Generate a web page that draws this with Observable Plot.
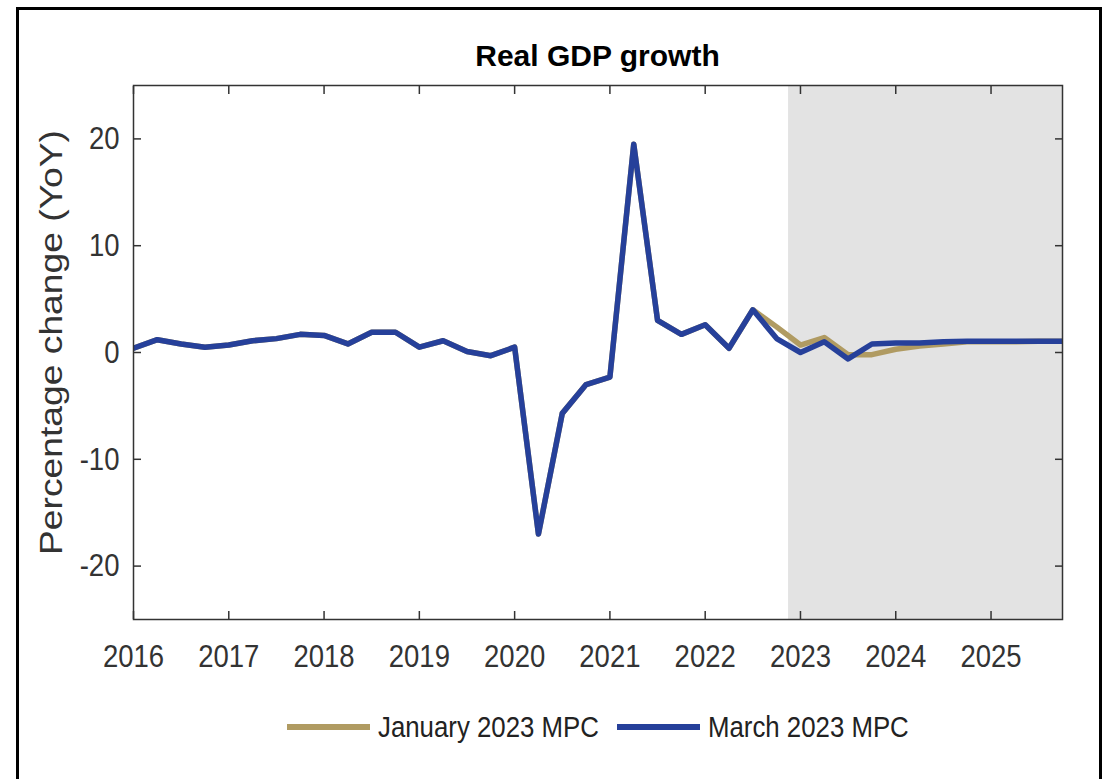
<!DOCTYPE html>
<html>
<head>
<meta charset="utf-8">
<script src="https://cdn.jsdelivr.net/npm/d3@7"></script>
<script src="https://cdn.jsdelivr.net/npm/@observablehq/plot@0.6"></script>
<style>
  html, body { margin: 0; padding: 0; background: #fff; }
  #wrap { position: relative; width: 1117px; height: 779px; overflow: hidden; background: #fff; }
  #border { position: absolute; left: 16px; top: 7px; width: 1086px; height: 800px; border: 3px solid #000; box-sizing: border-box; }
  #title { position: absolute; left: 133px; width: 929px; top: 39px; text-align: center;
    font-family: "Liberation Sans", Arial, sans-serif; font-weight: bold; font-size: 30px; color: #000; }
  #chart { position: absolute; left: 0; top: 0; }
  #legend { position: absolute; left: 0; top: 707px; width: 1117px; height: 40px; }
  .lg { position: absolute; top: 0; height: 40px; display: flex; align-items: center;
    font-family: "Liberation Sans", Arial, sans-serif; font-size: 30px; color: #222; white-space: nowrap; }
  .lg .tx { display: inline-block; transform: scaleX(0.86); transform-origin: 0 50%; }
  .sw { display: inline-block; width: 83px; height: 6px; margin-right: 8px; }
</style>
</head>
<body>
<div id="wrap">
  <div id="border"></div>
  <div id="chart"></div>
  <div id="title"></div>
  <div id="legend"></div>
</div>
<script>
const titleText = "Real GDP growth";
const yLabel = "Percentage change (YoY)";
const seriesNames = ["January 2023 MPC", "March 2023 MPC"];
const seriesColors = ["#b09b62", "#26409a"];

const quarters = [
  2016.00, 2016.25, 2016.50, 2016.75,
  2017.00, 2017.25, 2017.50, 2017.75,
  2018.00, 2018.25, 2018.50, 2018.75,
  2019.00, 2019.25, 2019.50, 2019.75,
  2020.00, 2020.25, 2020.50, 2020.75,
  2021.00, 2021.25, 2021.50, 2021.75,
  2022.00, 2022.25, 2022.50, 2022.75,
  2023.00, 2023.25, 2023.50, 2023.75,
  2024.00, 2024.25, 2024.50, 2024.75,
  2025.00, 2025.25, 2025.50, 2025.75
];

const marchMPC = [
  0.4, 1.2, 0.8, 0.5,
  0.7, 1.1, 1.3, 1.7,
  1.6, 0.8, 1.9, 1.9,
  0.5, 1.1, 0.1, -0.3,
  0.5, -17.0, -5.7, -3.0,
  -2.3, 19.5, 3.0, 1.7,
  2.6, 0.4, 4.0, 1.3,
  0.0, 1.0, -0.6, 0.8,
  0.9, 0.9, 1.0, 1.05,
  1.05, 1.05, 1.05, 1.05
];

const januaryMPC = [
  0.4, 1.2, 0.8, 0.5,
  0.7, 1.1, 1.3, 1.7,
  1.6, 0.8, 1.9, 1.9,
  0.5, 1.1, 0.1, -0.3,
  0.5, -17.0, -5.7, -3.0,
  -2.3, 19.5, 3.0, 1.7,
  2.6, 0.4, 4.0, 2.4,
  0.7, 1.4, -0.2, -0.2,
  0.3, 0.6, 0.8, 1.0,
  1.0, 1.0, 1.05, 1.05
];

const forecastStart = 2022.875;
const xTicks = [2016, 2017, 2018, 2019, 2020, 2021, 2022, 2023, 2024, 2025];
const yTicks = [-20, -10, 0, 10, 20];
const xDomain = [2016, 2025.75];
const yDomain = [-25, 25];

const rows = [];
quarters.forEach((q, i) => rows.push({t: q, v: januaryMPC[i], s: seriesNames[0]}));
quarters.forEach((q, i) => rows.push({t: q, v: marchMPC[i], s: seriesNames[1]}));

const font = `"Liberation Sans", Arial, sans-serif`;
const fmt = d => String(d);
const axisStroke = { stroke: "#333", strokeWidth: 1.5 };

const chart = Plot.plot({
  width: 1117,
  height: 690,
  marginLeft: 133,
  marginRight: 55,
  marginTop: 85,
  marginBottom: 71,
  style: { background: "transparent", fontFamily: font, fontSize: "32px", color: "#333" },
  x: { domain: xDomain, ticks: xTicks, tickFormat: fmt, label: null },
  y: { domain: yDomain, ticks: yTicks, tickFormat: fmt, label: null },
  color: { domain: seriesNames, range: seriesColors },
  marks: [
    Plot.rect([{a: forecastStart, b: xDomain[1]}], { x1: "a", x2: "b", fill: "#e3e3e3" }),
    Plot.line(rows, { x: "t", y: "v", stroke: "s", z: "s", strokeWidth: 5.5, clip: true }),
    Plot.frame(axisStroke),
    Plot.axisX({ anchor: "bottom", ticks: xTicks, tickSize: 8, dy: -8, tickFormat: () => "", label: null, ...axisStroke }),
    Plot.axisX({ anchor: "top", ticks: xTicks, tickSize: 8, dy: 8, tickFormat: () => "", label: null, ...axisStroke }),
    Plot.axisY({ anchor: "left", ticks: yTicks, tickSize: 8, dx: 8, tickFormat: () => "", label: null, ...axisStroke }),
    Plot.axisY({ anchor: "right", ticks: yTicks, tickSize: 8, dx: -8, tickFormat: () => "", label: null, ...axisStroke }),
    Plot.axisX({ anchor: "bottom", ticks: xTicks, tickSize: 0, tickPadding: 25, tickFormat: fmt, label: null, fill: "#333", fontSize: 32 }),
    Plot.axisY({ anchor: "left", ticks: yTicks, tickSize: 0, tickPadding: 14, tickFormat: fmt, label: null, fill: "#333", fontSize: 32 })
  ]
});
document.getElementById("chart").appendChild(chart);

// condense tick labels horizontally to match the narrow face of the reference
chart.querySelectorAll("text").forEach(t => {
  const s = t.textContent.trim();
  if (!s) return;
  const len = t.getComputedTextLength();
  if (len > 0) {
    t.setAttribute("textLength", (len * 0.86).toFixed(1));
    t.setAttribute("lengthAdjust", "spacingAndGlyphs");
  }
});

// y-axis title as rotated SVG text
const ns = "http://www.w3.org/2000/svg";
const ov = document.createElementNS(ns, "svg");
ov.setAttribute("width", 1117);
ov.setAttribute("height", 779);
ov.style.position = "absolute";
ov.style.left = "0px";
ov.style.top = "0px";
const yt = document.createElementNS(ns, "text");
yt.textContent = yLabel;
yt.setAttribute("transform", "translate(62,342.5) rotate(-90)");
yt.setAttribute("text-anchor", "middle");
yt.setAttribute("font-family", font);
yt.setAttribute("font-size", "32");
yt.setAttribute("fill", "#333");
yt.setAttribute("textLength", "425");
yt.setAttribute("lengthAdjust", "spacingAndGlyphs");
ov.appendChild(yt);
document.getElementById("wrap").appendChild(ov);

document.getElementById("title").textContent = titleText;

const legend = document.getElementById("legend");
const legendLeft = [287, 617];
seriesNames.forEach((name, i) => {
  const item = document.createElement("div");
  item.className = "lg";
  item.style.left = legendLeft[i] + "px";
  const sw = document.createElement("span");
  sw.className = "sw";
  sw.style.background = seriesColors[i];
  item.appendChild(sw);
  const tx = document.createElement("span");
  tx.className = "tx";
  tx.textContent = name;
  item.appendChild(tx);
  legend.appendChild(item);
});
</script>
</body>
</html>
